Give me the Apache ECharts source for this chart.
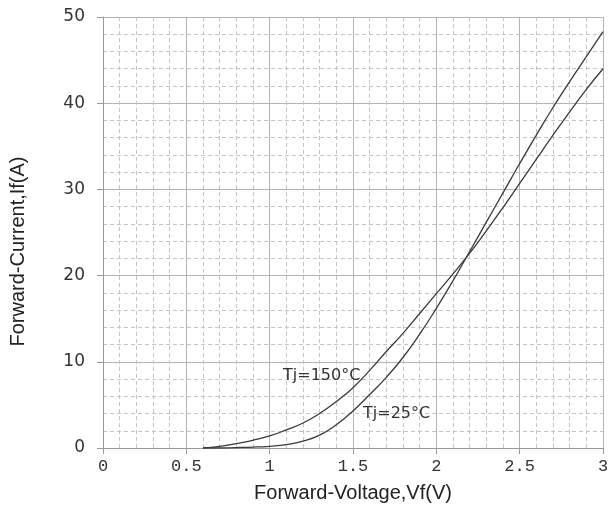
<!DOCTYPE html>
<html lang="en">
<head>
  <meta charset="UTF-8">
  <title>Forward characteristics</title>
  <script src="https://cdn.jsdelivr.net/npm/echarts@6/dist/echarts.min.js"></script>
  <style>body { margin: 0; background: #fff; }</style>
</head>
<body>
  <div id="main" style="width: 615px;height:515px;"></div>

  <script type="text/javascript">
    // values (V, A)
    let voltage = [0.6, 0.7, 0.8, 0.9, 1.0, 1.1, 1.2, 1.3, 1.4, 1.5, 1.6, 1.7, 1.8, 1.9, 2.0, 2.1, 2.2, 2.3, 2.4, 2.5, 2.6, 2.7, 2.8, 2.9, 3.0];
    let current150 = [0, 0.2, 0.5, 0.9, 1.4, 2.1, 2.9, 4.0, 5.4, 7.0, 9.0, 11.2, 13.3, 15.6, 17.9, 20.2, 22.6, 25.2, 27.9, 30.7, 33.5, 36.3, 39.0, 41.6, 44.0];
    let current25 = [0, 0, 0.05, 0.1, 0.2, 0.4, 0.8, 1.5, 2.7, 4.3, 6.2, 8.2, 10.5, 13.2, 16.2, 19.4, 22.8, 26.2, 29.6, 33.0, 36.3, 39.5, 42.5, 45.4, 48.3];
    let seriesNames = ['Tj=150°C', 'Tj=25°C'];
    let labelPos = [[1.08, 8.35], [1.56, 3.95]];

    let myChart = echarts.init(document.getElementById('main'));

    function pairs(ys) {
      return voltage.map((v, i) => [v, ys[i]]);
    }

    function curve(name, ys, pos) {
      return {
        name: name,
        type: 'line',
        smooth: true,
        symbol: 'none',
        data: pairs(ys),
        lineStyle: { color: '#3a3a3a', width: 1.3 },
        markPoint: {
          symbol: 'circle',
          symbolSize: 0,
          data: [{ coord: pos, value: name }],
          label: {
            show: true,
            position: 'right',
            distance: 0,
            formatter: name,
            color: '#333',
            fontFamily: 'DejaVu Sans',
            fontSize: 16
          }
        }
      };
    }

    let options = {
      animation: false,
      grid: { left: 103, right: 12, top: 17, bottom: 67 },
      xAxis: {
        type: 'value',
        min: 0, max: 3, interval: 0.5,
        name: 'Forward-Voltage,Vf(V)',
        nameLocation: 'middle',
        nameGap: 35,
        nameTextStyle: { fontFamily: 'Liberation Sans', fontSize: 20, color: '#222' },
        axisLine: { lineStyle: { color: '#999' } },
        axisTick: { show: true, length: 6, lineStyle: { color: '#999' } },
        axisLabel: { fontFamily: 'Liberation Mono', fontSize: 17, color: '#333', margin: 10 },
        splitLine: { lineStyle: { color: '#b4b4b4', width: 1 } },
        minorTick: { show: false, splitNumber: 5 },
        minorSplitLine: { show: true, lineStyle: { color: '#c4c4c4', type: [4, 3] } }
      },
      yAxis: {
        type: 'value',
        min: 0, max: 50, interval: 10,
        name: 'Forward-Current,If(A)',
        nameLocation: 'middle',
        nameGap: 75,
        nameTextStyle: { fontFamily: 'Liberation Sans', fontSize: 20, color: '#222', padding: [0, 38, 0, 0] },
        axisLine: { show: true, lineStyle: { color: '#999' } },
        axisTick: { show: true, length: 6, lineStyle: { color: '#999' } },
        axisLabel: { fontFamily: 'DejaVu Sans', fontSize: 17, color: '#333', margin: 18 },
        splitLine: { lineStyle: { color: '#b4b4b4', width: 1 } },
        minorTick: { show: false, splitNumber: 5 },
        minorSplitLine: { show: true, lineStyle: { color: '#c4c4c4', type: [4, 3] } }
      },
      series: [
        curve(seriesNames[0], current150, labelPos[0]),
        curve(seriesNames[1], current25, labelPos[1])
      ]
    };

    myChart.setOption(options);
  </script>
</body>
</html>
